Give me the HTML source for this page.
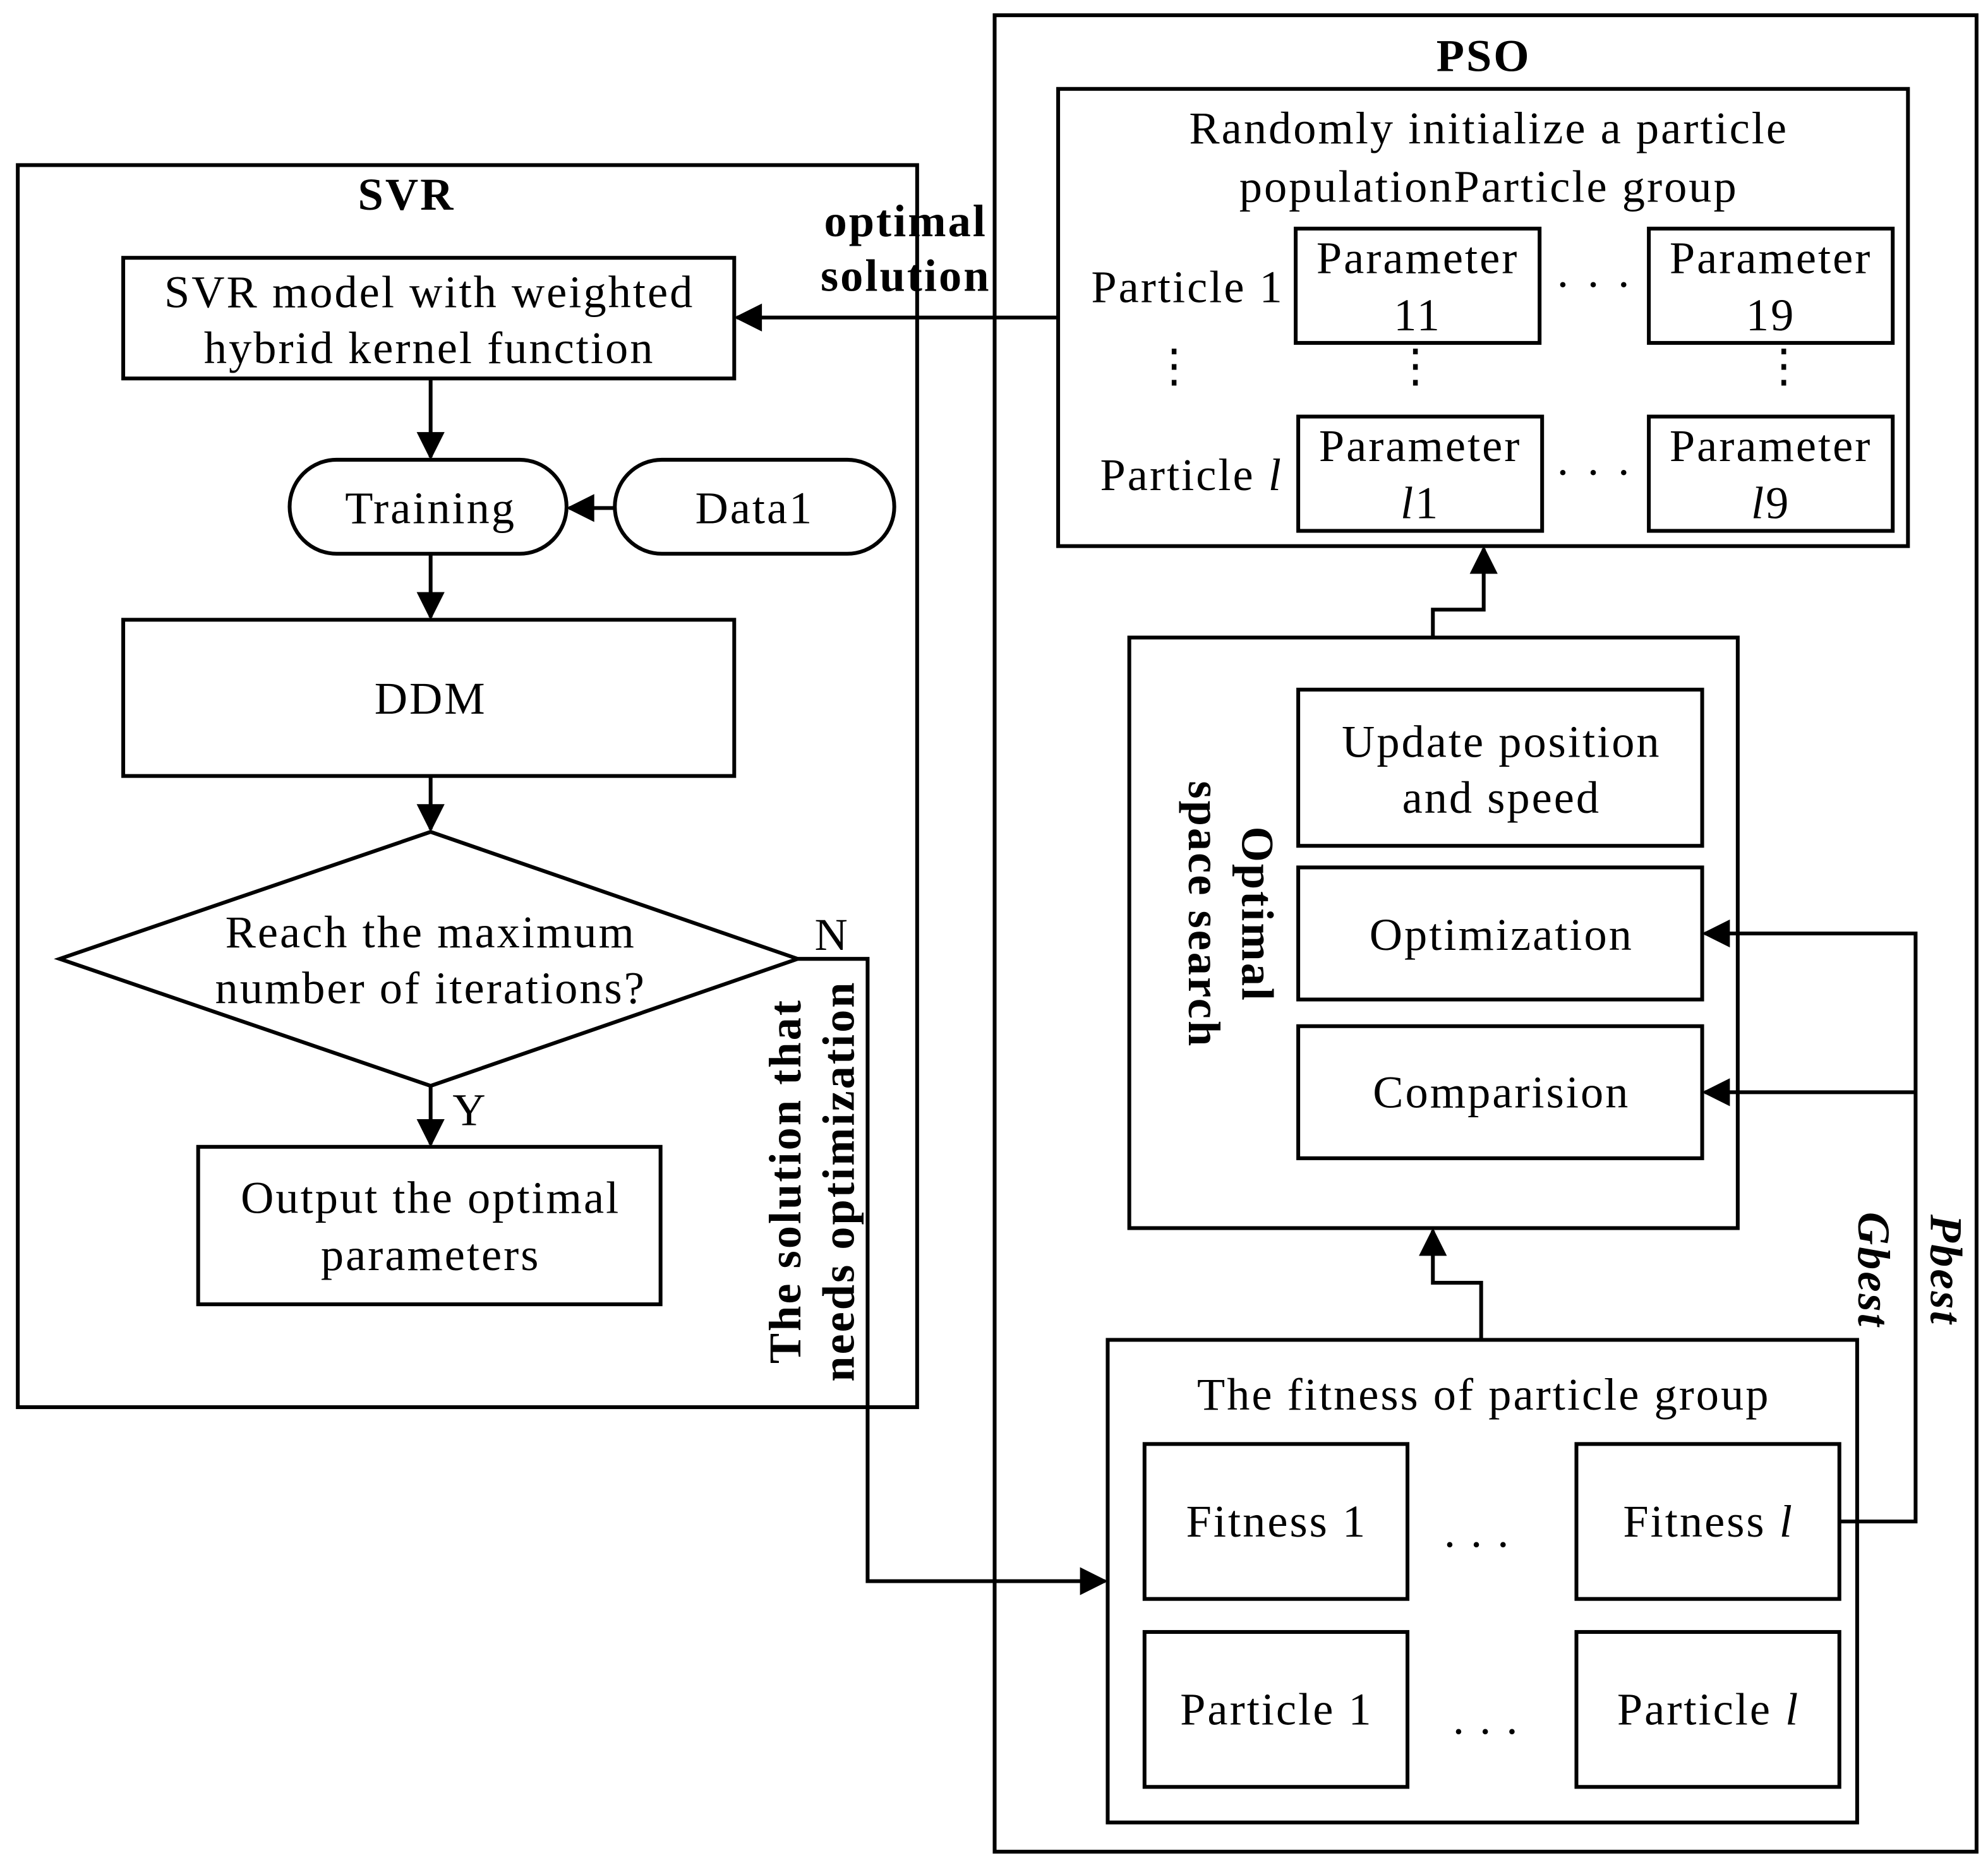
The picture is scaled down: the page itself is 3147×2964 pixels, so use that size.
<!DOCTYPE html>
<html><head><meta charset="utf-8"><style>
html,body{margin:0;padding:0;background:#fff;}
svg{display:block;}
text{font-family:"Liberation Serif",serif;font-size:36px;letter-spacing:1.5px;fill:#000;}
.b{font-weight:bold;}
</style></head><body>
<svg width="3147" height="2964" viewBox="0 0 1565 1474" xmlns="http://www.w3.org/2000/svg">
<defs>
<marker id="A" viewBox="0 0 10 10" refX="9" refY="5" markerWidth="26" markerHeight="22" markerUnits="userSpaceOnUse" orient="auto"><path d="M0,0L10,5L0,10z"/></marker></defs>
<g fill="none" stroke="#000" stroke-width="3">
<rect x="14" y="130" width="708" height="978"/>
<rect x="783" y="12" width="773" height="1446"/>
<rect x="833" y="70" width="669" height="360"/>
<rect x="1020" y="180" width="192" height="90"/>
<rect x="1298" y="180" width="192" height="90"/>
<rect x="1022" y="328" width="192" height="90"/>
<rect x="1298" y="328" width="192" height="90"/>
<rect x="97" y="203" width="481" height="95"/>
<rect x="228" y="362" width="218" height="74" rx="37"/>
<rect x="484" y="362" width="220" height="74" rx="37"/>
<rect x="97" y="488" width="481" height="123"/>
<path d="M339,655L628,755L339,855L47,755Z"/>
<rect x="156" y="903" width="364" height="124"/>
<rect x="889" y="502" width="479" height="465"/>
<rect x="1022" y="543" width="318" height="123"/>
<rect x="1022" y="683" width="318" height="104"/>
<rect x="1022" y="808" width="318" height="104"/>
<rect x="872" y="1055" width="590" height="380"/>
<rect x="901" y="1137" width="207" height="122"/>
<rect x="1241" y="1137" width="207" height="122"/>
<rect x="901" y="1285" width="207" height="122"/>
<rect x="1241" y="1285" width="207" height="122"/>
<path d="M833,250H580" marker-end="url(#A)"/>
<path d="M339,298V360" marker-end="url(#A)"/>
<path d="M484,400H448" marker-end="url(#A)"/>
<path d="M339,436V486" marker-end="url(#A)"/>
<path d="M339,611V653" marker-end="url(#A)"/>
<path d="M339,855V901" marker-end="url(#A)"/>
<path d="M628,755H683V1245H870" marker-end="url(#A)"/>
<path d="M1128,502V480H1168V432" marker-end="url(#A)"/>
<path d="M1166,1055V1010H1128V969" marker-end="url(#A)"/>
<path d="M1448,1198H1508V735H1342" marker-end="url(#A)"/>
<path d="M1508,860H1342" marker-end="url(#A)"/>
</g>
<g text-anchor="middle">
<text x="320" y="165" class="b">SVR</text>
<text x="1168" y="56" class="b">PSO</text>
<text x="1172" y="113">Randomly initialize a particle</text>
<text x="1172" y="159">populationParticle group</text>
<text x="935" y="238">Particle 1</text>
<text x="1116" y="215">Parameter</text><text x="1116" y="260">11</text>
<text x="1394" y="215">Parameter</text><text x="1394" y="260">19</text>
<text x="1255" y="236">· · ·</text>
<text x="938" y="386">Particle <tspan font-style="italic">l</tspan></text>
<text x="1118" y="363">Parameter</text><text x="1118" y="408"><tspan font-style="italic">l</tspan>1</text>
<text x="1394" y="363">Parameter</text><text x="1394" y="408"><tspan font-style="italic">l</tspan>9</text>
<text x="1255" y="384">· · ·</text>
<text x="713" y="186" class="b">optimal</text>
<text x="713" y="229" class="b">solution</text>
<text x="338" y="242">SVR model with weighted</text>
<text x="338" y="286">hybrid kernel function</text>
<text x="339" y="412">Training</text>
<text x="594" y="412">Data1</text>
<text x="339" y="562">DDM</text>
<text x="339" y="746">Reach the maximum</text>
<text x="339" y="790">number of iterations?</text>
<text x="370" y="886">Y</text>
<text x="655" y="748">N</text>
<text x="339" y="955">Output the optimal</text>
<text x="339" y="1000">parameters</text>
<text x="1182" y="596">Update position</text>
<text x="1182" y="640">and speed</text>
<text x="1182" y="748">Optimization</text>
<text x="1182" y="872">Comparision</text>
<text x="1168" y="1110">The fitness of particle group</text>
<text x="1005" y="1210">Fitness 1</text>
<text x="1345" y="1210">Fitness <tspan font-style="italic">l</tspan></text>
<text x="1163" y="1218">. . .</text>
<text x="1005" y="1358">Particle 1</text>
<text x="1345" y="1358">Particle <tspan font-style="italic">l</tspan></text>
<text x="1170" y="1365">. . .</text>
<text transform="translate(630,930) rotate(-90)" class="b">The solution that</text>
<text transform="translate(672,930) rotate(-90)" class="b">needs optimization</text>
<text transform="translate(978,720) rotate(90)" class="b">Optimal</text>
<text transform="translate(936,720) rotate(90)" class="b">space search</text>
<text transform="translate(1463,1000) rotate(90)" class="b" font-style="italic">Gbest</text>
<text transform="translate(1520,1000) rotate(90)" class="b" font-style="italic">Pbest</text>
<text x="925" y="300">⋮</text>
<text x="1115" y="300">⋮</text>
<text x="1405" y="300">⋮</text>
</g>
</svg>
</body></html>
